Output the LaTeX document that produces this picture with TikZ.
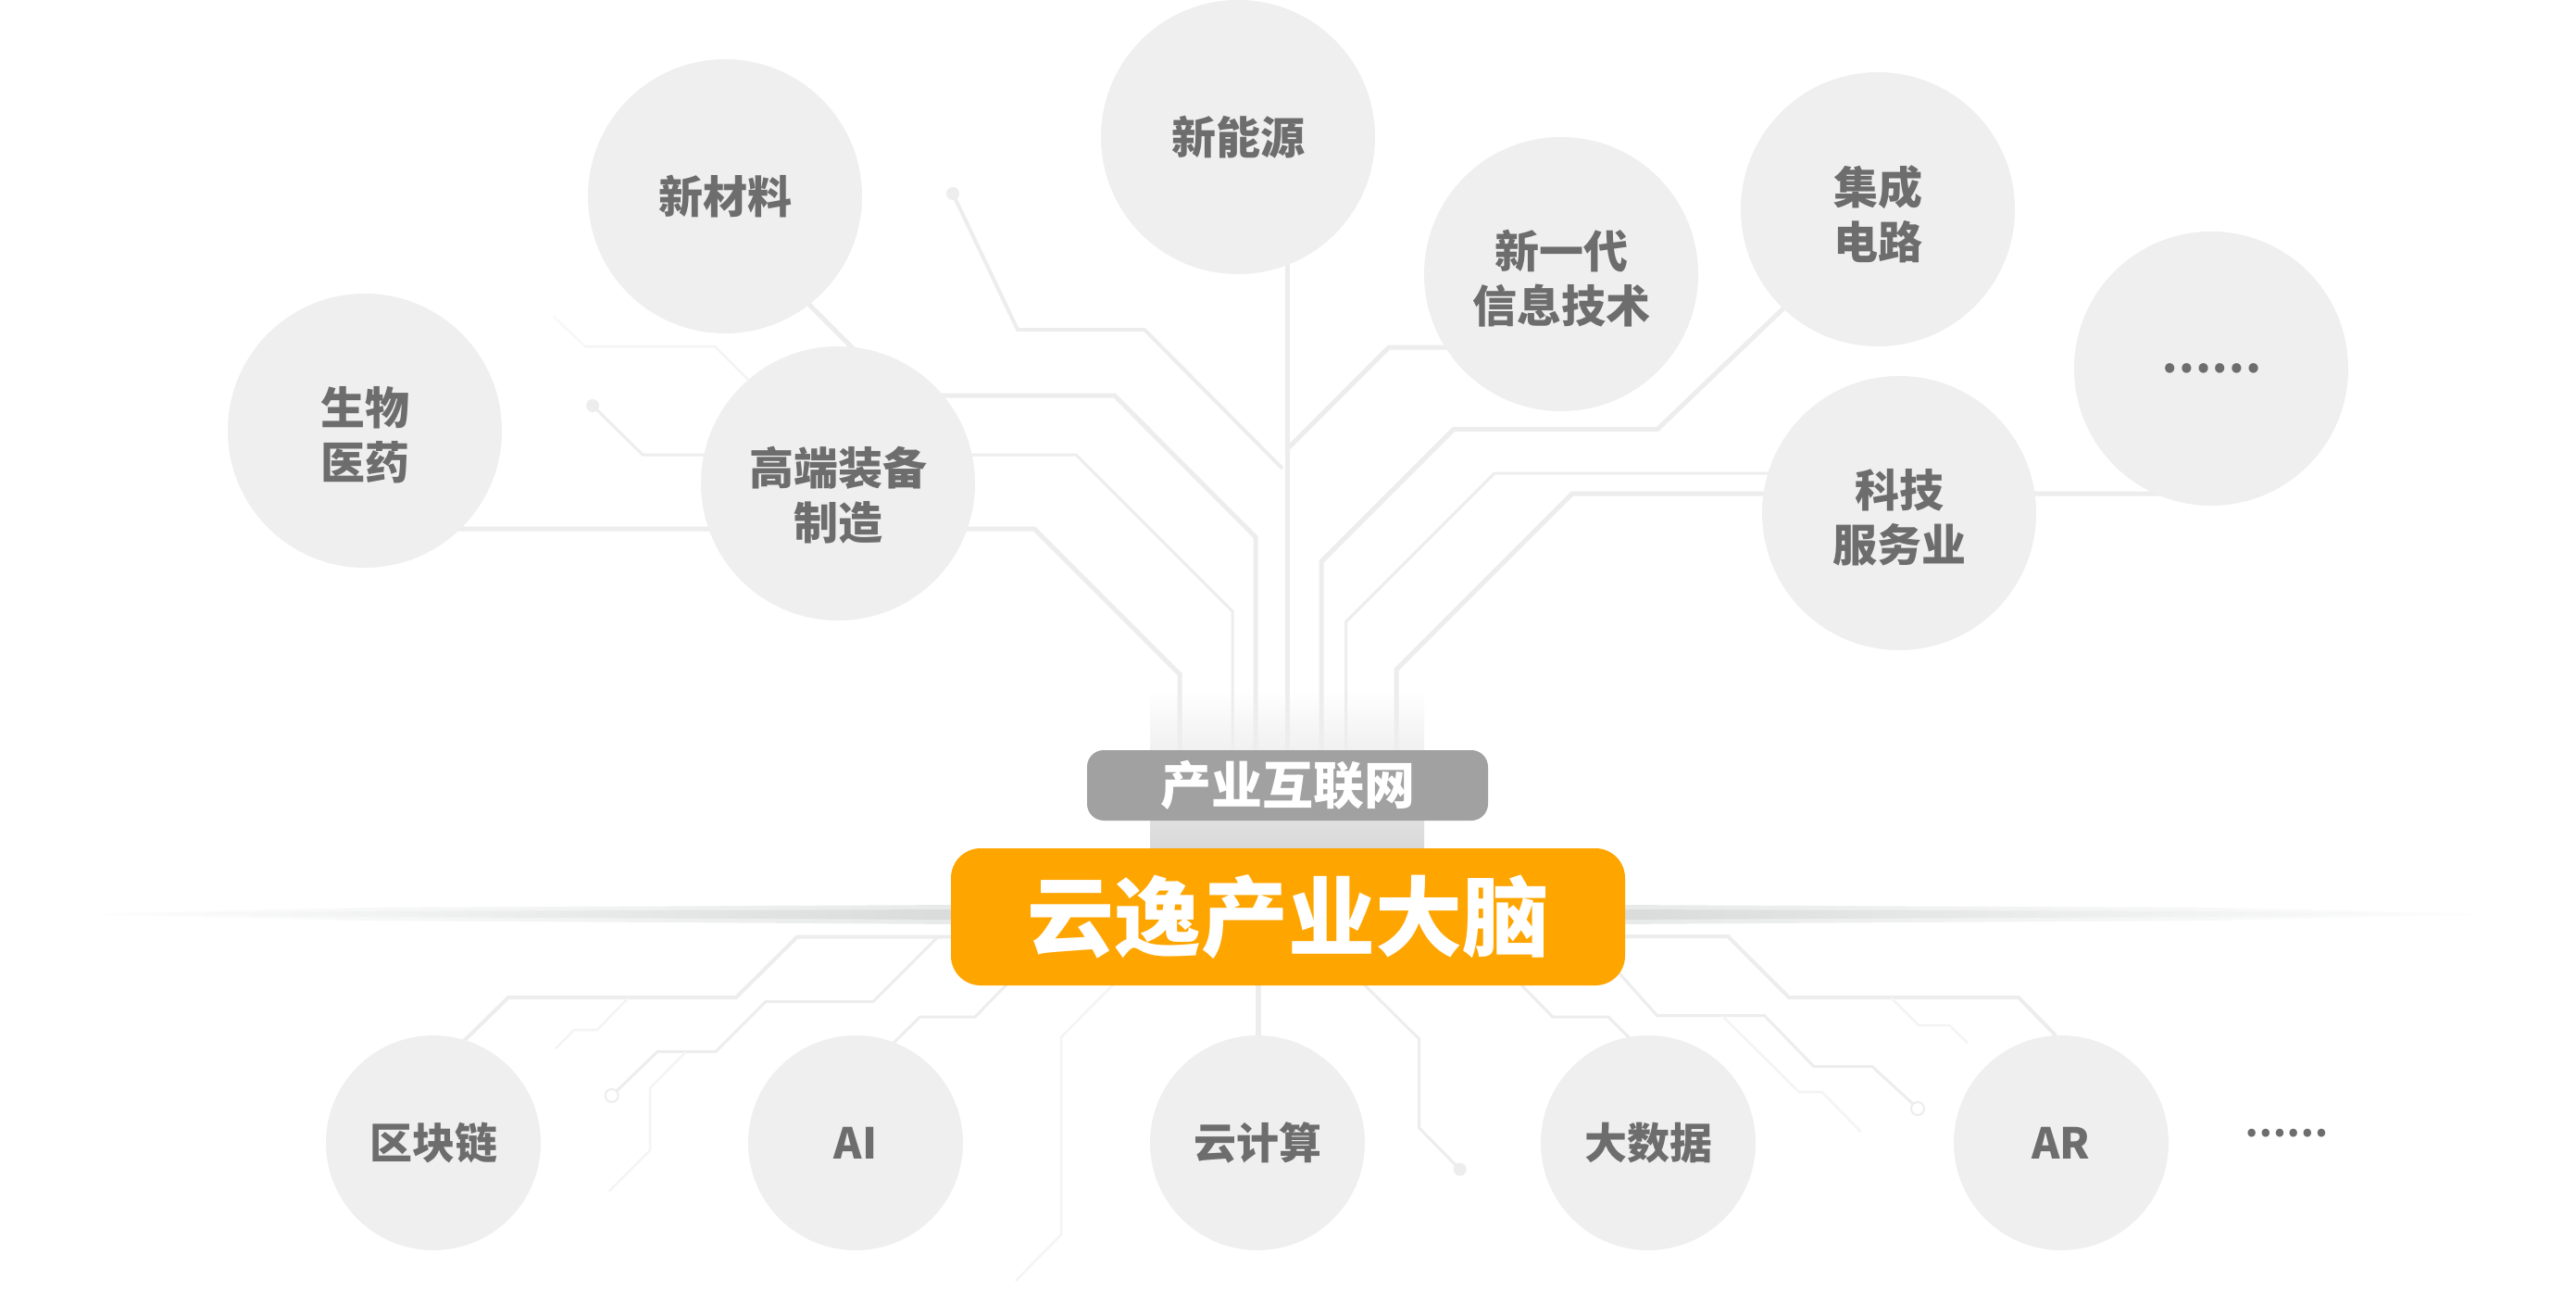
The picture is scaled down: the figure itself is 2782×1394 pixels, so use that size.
\documentclass[tikz,border=0pt]{standalone}
\usepackage{fontspec}
\setmainfont{Noto Sans CJK SC}
\definecolor{bub}{HTML}{EFEFEF}
\definecolor{trace}{HTML}{EDEDED}
\definecolor{tracefaint}{HTML}{F4F4F4}
\definecolor{tracevfaint}{HTML}{F8F8F8}
\definecolor{txt}{HTML}{6D6D6D}
\definecolor{brand}{HTML}{FEA500}
\definecolor{netgray}{HTML}{A0A1A0}
\definecolor{shadowc}{HTML}{D8DBDA}
\tikzset{
  bubble/.style={circle, fill=bub, minimum size=296pt, inner sep=0pt},
  smallbubble/.style={bubble, minimum size=232pt},
  bubtext/.style={align=center, text=txt, inner sep=0pt, font=\fontsize{48}{59}\selectfont\bfseries},
  smalltext/.style={bubtext, font=\fontsize{46}{56}\selectfont\bfseries},
  thicktrace/.style={draw=trace, line width=5pt},
  midtrace/.style={draw=trace, line width=4pt},
  thintrace/.style={draw=trace, line width=3pt},
  fainttrace/.style={draw=tracefaint, line width=2.5pt},
  ringend/.style={draw=trace, line width=2pt, fill=white},
}
\begin{document}
\begin{tikzpicture}[x=1pt,y=-1pt]
\useasboundingbox (0,0) rectangle (2782,1394);
\fill[white] (0,0) rectangle (2782,1394);

% vertical glow behind the stem
\shade[top color=white, middle color=black!5, bottom color=black!15] (1242,745) rectangle (1538,916);

% horizontal shadow line
\shade[left color=white, middle color=shadowc!45, right color=shadowc!60]
  (70,987) -- (400,980) -- (1040,977) -- (1040,998) -- (400,994) -- cycle;
\shade[left color=white, middle color=shadowc!75, right color=shadowc]
  (70,987) -- (400,984) -- (1040,982) -- (1040,993) -- (400,990) -- cycle;
\shade[left color=shadowc!60, middle color=shadowc!45, right color=white]
  (1740,977) -- (2380,980) -- (2705,987) -- (2380,994) -- (1740,998) -- cycle;
\shade[left color=shadowc, middle color=shadowc!75, right color=white]
  (1740,982) -- (2380,984) -- (2705,987) -- (2380,990) -- (1740,993) -- cycle;

% ---- upper traces ----
\draw[midtrace] (1029,209) -- (1099,356) -- (1236,356) -- (1385,506);
\fill[trace] (1029,209) circle (7pt);
\draw[thicktrace] (1390,260) -- (1390,812);
\draw[thicktrace] (1620,375) -- (1500,375) -- (1392,483);
\draw[thicktrace] (840,295) -- (972,427) -- (1203.6,427) -- (1356,580) -- (1356,812);
\draw[draw=tracevfaint, line width=2.5pt] (598,342) -- (632,374);
\draw[fainttrace] (632,374) -- (772,374) -- (820,422);
\draw[thintrace] (640,438) -- (694,491) -- (1162,491) -- (1331,660) -- (1331,812);
\fill[trace] (640,438) circle (7pt);
\draw[thicktrace] (420,571) -- (1117,571) -- (1274,728) -- (1274,812);
\draw[thicktrace] (1970,290) -- (1926,333) -- (1790,463.5) -- (1570,463.5) -- (1427,606.5) -- (1427,812);
\draw[thintrace] (1960,511) -- (1614,511) -- (1453.6,671.4) -- (1453.6,812);
\draw[thicktrace] (2388,533) -- (1698,533) -- (1508,723) -- (1508,812);

% ---- lower traces ----
\draw[midtrace] (1040,1011.5) -- (861,1011.5) -- (795,1077) -- (549,1077) -- (500,1125);
\draw[fainttrace] (679,1077) -- (645,1112) -- (620,1112) -- (600,1132);
\draw[thintrace] (1013,1011.5) -- (943,1081.5) -- (827,1081.5) -- (773,1135.5) -- (710,1135.5) -- (666,1178);
\draw[ringend] (660.7,1183) circle (7pt);
\draw[fainttrace] (741,1135.5) -- (702,1175) -- (702,1242) -- (658,1286);
\draw[thintrace] (1110,1040) -- (1053,1098) -- (993.6,1098) -- (965,1126);
\draw[fainttrace] (1225,1040) -- (1146,1120) -- (1146,1333) -- (1097,1383);
\draw[thicktrace, line width=6pt] (1359,1000) -- (1359,1130);
\draw[thintrace] (1450,1040) -- (1532.7,1122) -- (1532.7,1218) -- (1572,1258);
\fill[trace] (1576.7,1262.7) circle (7pt);
\draw[thintrace] (1610,1030) -- (1676.8,1098) -- (1737,1098) -- (1762,1123);
\draw[midtrace] (1740,1011) -- (1866,1011) -- (1932,1077) -- (2180,1077) -- (2220,1118);
\draw[fainttrace] (2042,1077) -- (2072,1107) -- (2105,1107) -- (2125,1126);
\draw[thintrace] (1730,1030) -- (1789.7,1096.7) -- (1905.6,1096.7) -- (1959,1151.7) -- (2022,1151.7) -- (2066,1192);
\draw[ringend] (2071,1197) circle (7pt);
\draw[fainttrace] (1859.7,1096.7) -- (1942.8,1179) -- (1967.6,1179) -- (2009.7,1222);

% ---- upper bubbles ----
\node[bubble] (sw)   at (394,465)   {};
\node[bubble] (xcl)  at (783,212)   {};
\node[bubble] (gd)   at (905,522)   {};
\node[bubble] (xny)  at (1337,148)  {};
\node[bubble] (xyd)  at (1686,296)  {};
\node[bubble] (jc)   at (2028,226)  {};
\node[bubble] (more) at (2388,398)  {};
\node[bubble] (kj)   at (2051,554)  {};
\node[bubtext] (swt)   at ([yshift=-5pt]sw.center)   {生物\\医药};
\node[bubtext] (xclt)  at (xcl.center)               {新材料};
\node[bubtext] (gdt)   at ([yshift=-13pt]gd.center)  {高端装备\\制造};
\node[bubtext] (xnyt)  at (xny.center)               {新能源};
\node[bubtext] (xydt)  at ([yshift=-5pt]xyd.center)  {新一代\\信息技术};
\node[bubtext] (jct)   at ([yshift=-5pt]jc.center)   {集成\\电路};
\node[bubtext] (moret) at (more.center)              {……};
\node[bubtext] (kjt)   at ([yshift=-5pt]kj.center)   {科技\\服务业};

% ---- lower bubbles ----
\node[smallbubble] (qkl) at (468,1234)  {};
\node[smallbubble] (ai)  at (924,1234)  {};
\node[smallbubble] (yjs) at (1358,1234) {};
\node[smallbubble] (dsj) at (1780,1234) {};
\node[smallbubble] (ar)  at (2226,1234) {};
\node[smalltext] (qklt) at (qkl.center) {区块链};
\node[smalltext] (ait)  at (ai.center)  {AI};
\node[smalltext] (yjst) at (yjs.center) {云计算};
\node[smalltext] (dsjt) at (dsj.center) {大数据};
\node[smalltext] (art)  at (ar.center)  {AR};
\node[text=txt, font=\fontsize{40}{44}\selectfont\bfseries, inner sep=0pt] (more2) at (2469,1224) {……};

% ---- central boxes ----
\node[fill=netgray, rounded corners=18pt, minimum width=433pt, minimum height=76pt, inner sep=0pt,
      text=white, font=\fontsize{55}{60}\selectfont\bfseries] (net) at (1390.5,848) {产业互联网};
\node[fill=brand, rounded corners=32pt, minimum width=728pt, minimum height=148pt, inner sep=0pt,
      text=white, font=\fontsize{94}{100}\selectfont\bfseries] (brain) at (1391,990) {云逸产业大脑};
\end{tikzpicture}
\end{document}
